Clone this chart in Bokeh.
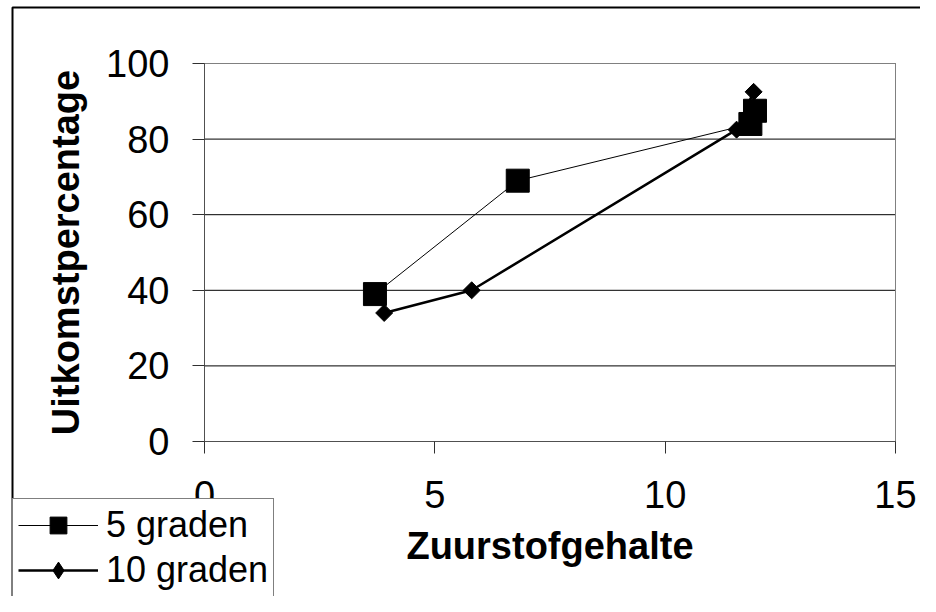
import numpy as np
from bokeh.plotting import figure
from bokeh.models import Range1d, FixedTicker, Legend, LegendItem, PolyAnnotation, ColumnDataSource
from bokeh.embed import file_html
from bokeh.resources import INLINE

# data
series_names = ["5 graden", "10 graden"]
five_x = [3.7, 6.8, 11.85, 11.95]
five_y = [39, 69, 84, 87.5]
ten_x = [3.9, 5.8, 11.55, 11.92]
ten_y = [34, 40, 82.5, 92.5]
x_ticks = [0, 5, 10, 15]
y_ticks = [0, 20, 40, 60, 80, 100]
x_title = "Zuurstofgehalte"
y_title = "Uitkomstpercentage"

FONT = "Liberation Sans"
W, H = 920, 596
# plot-area placement on the canvas (pixels)
PL, PR, PT, PB = 204, 895, 63, 441

xs = (PR - PL) / (x_ticks[-1] - x_ticks[0])
ys = (PB - PT) / (y_ticks[-1] - y_ticks[0])
x_range = Range1d(x_ticks[0] - PL / xs, x_ticks[-1] + (W - PR) / xs)
y_range = Range1d(y_ticks[0] - (H - PB) / ys, y_ticks[-1] + PT / ys)

p = figure(width=W, height=H, output_backend="svg", toolbar_location=None,
           x_range=x_range, y_range=y_range, min_border=0)
p.background_fill_color = "white"
p.border_fill_color = "white"
p.outline_line_color = None

p.xaxis.ticker = FixedTicker(ticks=x_ticks)
p.yaxis.ticker = FixedTicker(ticks=y_ticks)
p.xaxis.fixed_location = y_ticks[0]
p.yaxis.fixed_location = x_ticks[0]
p.xaxis.bounds = (x_ticks[0], x_ticks[-1])
p.yaxis.bounds = (y_ticks[0], y_ticks[-1])
for ax in (p.xaxis, p.yaxis):
    ax.major_label_text_font = FONT
    ax.major_label_text_font_size = "38px"
    ax.major_label_text_color = "black"
    ax.axis_label_text_font = FONT
    ax.axis_label_text_font_size = "38px"
    ax.axis_label_text_font_style = "bold"
    ax.axis_label_text_color = "black"
    ax.axis_line_color = "#505050"
    ax.axis_line_width = 1
    ax.major_tick_line_color = "#303030"
    ax.major_tick_out = 12
    ax.major_tick_in = 0
    ax.minor_tick_line_color = None
p.xaxis.axis_label = x_title
p.yaxis.axis_label = y_title
p.xaxis.major_label_standoff = 27
p.yaxis.major_label_standoff = 23
p.xaxis.axis_label_standoff = 14
p.yaxis.axis_label_standoff = 16

p.xgrid.visible = False
p.ygrid.visible = False

# horizontal gridlines at the y ticks, across the plot area
p.segment(x0=[x_ticks[0]] * len(y_ticks), x1=[x_ticks[-1]] * len(y_ticks), y0=y_ticks, y1=y_ticks,
          line_color="black", line_width=1)
# plot-area border (gray top/right)
p.quad(left=[x_ticks[0]], right=[x_ticks[-1]], bottom=[y_ticks[0]], top=[y_ticks[-1]],
       fill_alpha=0, line_color="#808080", line_width=1)

src5 = ColumnDataSource(dict(x=five_x, y=five_y))
src10 = ColumnDataSource(dict(x=ten_x, y=ten_y))

l5 = p.line("x", "y", source=src5, line_color="black", line_width=1)
s5 = p.scatter("x", "y", source=src5, marker="square", size=23, fill_color="black", line_color="black")
l10 = p.line("x", "y", source=src10, line_color="black", line_width=2.5)
d10 = p.scatter("x", "y", source=src10, marker="diamond", size=12, fill_color="black", line_color="black")
s10 = p.scatter("x", "y", source=src10, marker="square", angle=np.pi / 4, size=12,
                fill_color="black", line_color="black")

legend = Legend(items=[LegendItem(label=series_names[0], renderers=[l5, s5]),
                       LegendItem(label=series_names[1], renderers=[l10, d10])],
                location=(12, -1))
legend.label_text_font = FONT
legend.label_text_font_size = "36px"
legend.label_text_color = "black"
legend.padding = 5
legend.spacing = 3
legend.margin = 0
legend.glyph_width = 80
legend.glyph_height = 42
legend.label_height = 42
legend.label_standoff = 8
legend.border_line_color = "black"
legend.border_line_width = 1
legend.background_fill_color = "white"
legend.background_fill_alpha = 1
p.add_layout(legend, "center")

# outer chart border (left and top edges; right/bottom lie beyond the window)
FAR = 20000
border = PolyAnnotation(xs=[FAR, 12, 12], ys=[7, 7, FAR],
                        xs_units="canvas", ys_units="canvas",
                        fill_alpha=0, line_color="black", line_alpha=1, line_width=2, level="overlay")
p.add_layout(border)

open("out.html", "w").write(file_html(p, INLINE))
